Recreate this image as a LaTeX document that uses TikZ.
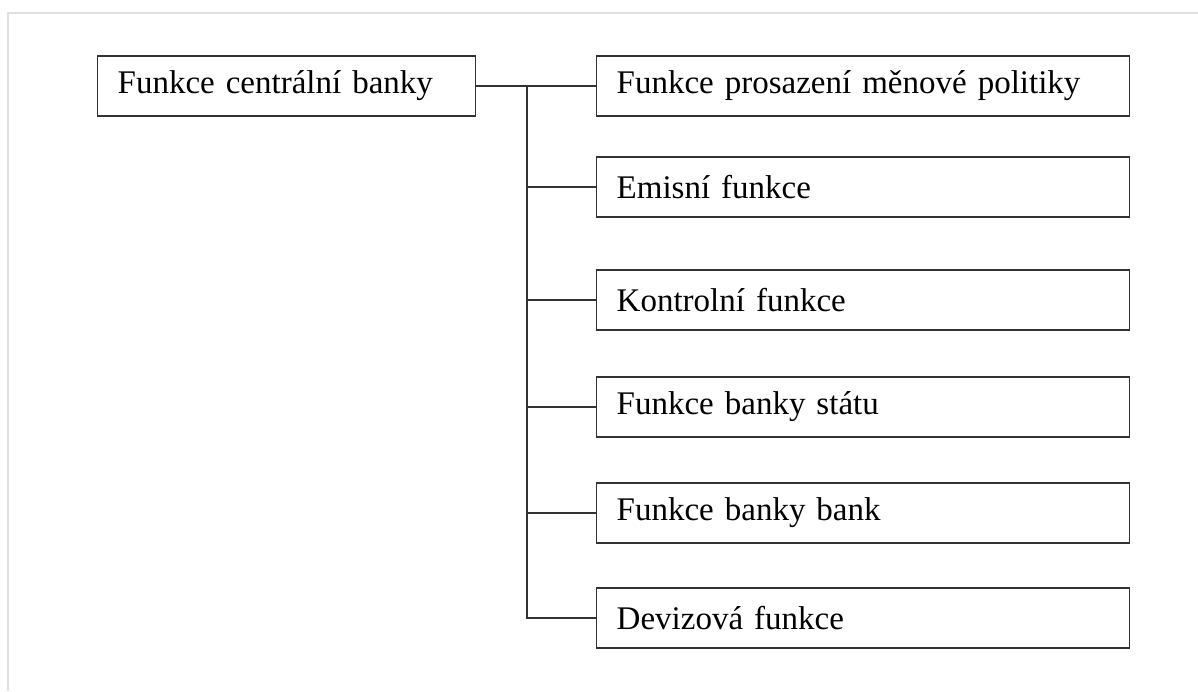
\documentclass[tikz,border=0pt]{standalone}
\usepackage{fontspec}
\setmainfont{Liberation Serif}
\begin{document}
\begin{tikzpicture}[x=1pt,y=-1pt,
  conn/.style={draw=black!80, line width=1.4pt},
  fbox/.style={draw=black!80, line width=1.4pt, anchor=west, inner xsep=20pt, inner ysep=0pt,
    minimum height=60pt, align=left, font=\fontsize{33}{38}\selectfont},
  rootbox/.style={fbox, text width=338pt},
  subbox/.style={fbox, text width=493pt}]
\useasboundingbox (0,0) rectangle (1198,691);
\draw[black!12, line width=2pt] (8,691) -- (8,13) -- (1198,13);
\node[rootbox] (root) at (97,86) {Funkce centrální banky};
\node[subbox] (b1) at (596,86) {Funkce prosazení měnové politiky};
\node[subbox] (b2) at (596,187) {Emisní funkce};
\node[subbox] (b3) at (596,300) {Kontrolní funkce};
\node[subbox] (b4) at (596,407) {Funkce banky státu};
\node[subbox] (b5) at (596,513) {Funkce banky bank};
\node[subbox] (b6) at (596,618) {Devizová funkce};
\coordinate (t) at (527,86);
\draw[conn] (root.east) -- (b1.west);
\draw[conn] (t) |- (b6.west);
\foreach \b in {b2,b3,b4,b5} \draw[conn] (t|-\b.west) -- (\b.west);
\end{tikzpicture}
\end{document}
